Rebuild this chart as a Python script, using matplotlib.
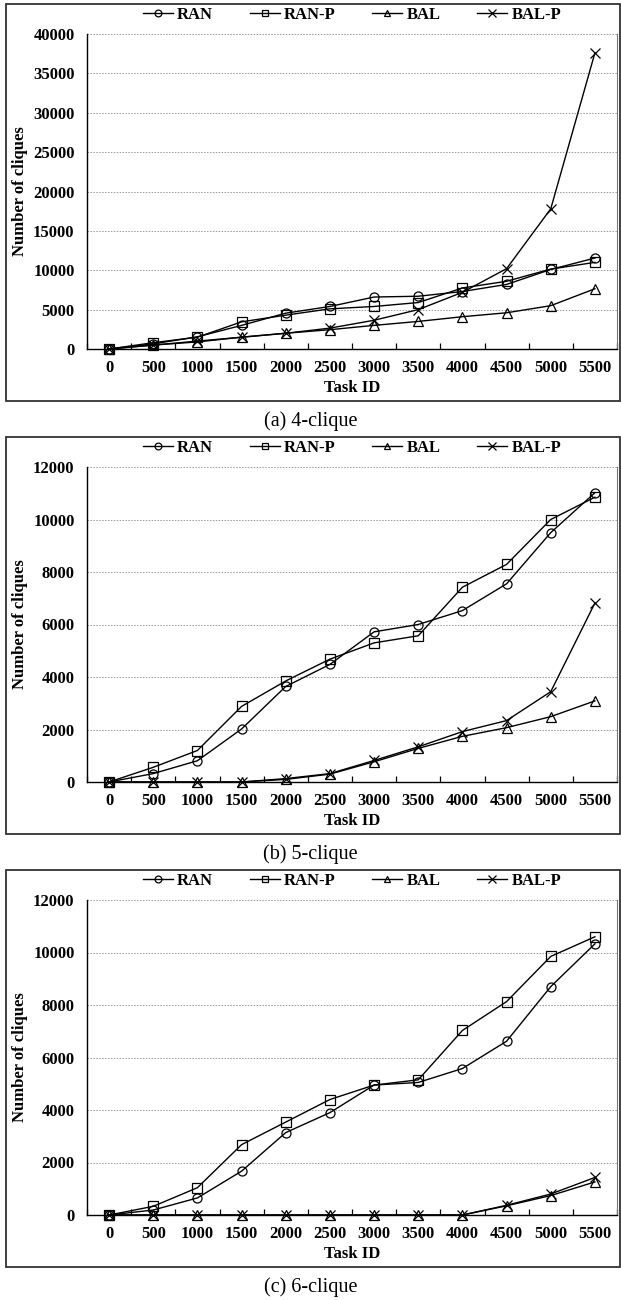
import matplotlib
matplotlib.use('Agg')
import matplotlib.pyplot as plt
from matplotlib.patches import Rectangle
import numpy as np

plt.rcParams['font.family'] = ['Liberation Serif', 'DejaVu Serif']

# 横轴类别（任务编号）
task_ids = ['0', '500', '1000', '1500', '2000', '2500', '3000', '3500',
            '4000', '4500', '5000', '5500']

# (a) 4-clique
ran_4 = [0, 650, 1550, 3000, 4550, 5400, 6600, 6700, 7300, 8200, 10100, 11550]
ranp_4 = [0, 800, 1500, 3450, 4300, 5100, 5400, 5900, 7750, 8600, 10150, 11000]
bal_4 = [0, 500, 900, 1500, 2000, 2450, 3000, 3500, 4100, 4600, 5500, 7650]
balp_4 = [0, 500, 1000, 1500, 2000, 2650, 3650, 5000, 7200, 10200, 17800, 37600]

# (b) 5-clique
ran_5 = [0, 320, 810, 2020, 3640, 4480, 5720, 6000, 6530, 7550, 9500, 11020]
ranp_5 = [0, 560, 1200, 2880, 3850, 4680, 5300, 5570, 7420, 8290, 10000, 10850]
bal_5 = [0, 0, 0, 0, 100, 300, 770, 1280, 1740, 2070, 2490, 3090]
balp_5 = [0, 0, 0, 0, 130, 320, 820, 1340, 1920, 2340, 3440, 6820]

# (c) 6-clique
ran_6 = [0, 190, 650, 1670, 3140, 3900, 4950, 5050, 5580, 6620, 8700, 10330]
ranp_6 = [0, 330, 1040, 2680, 3540, 4400, 4950, 5150, 7030, 8130, 9850, 10600]
bal_6 = [0, 0, 0, 0, 0, 0, 0, 0, 0, 350, 740, 1260]
balp_6 = [0, 0, 0, 0, 0, 0, 0, 0, 0, 370, 800, 1430]

series_names = ['RAN', 'RAN-P', 'BAL', 'BAL-P']
markers = ['o', 's', '^', 'x']

panels = [
    ('(a) 4-clique', [ran_4, ranp_4, bal_4, balp_4], 40000, 5000),
    ('(b) 5-clique', [ran_5, ranp_5, bal_5, balp_5], 12000, 2000),
    ('(c) 6-clique', [ran_6, ranp_6, bal_6, balp_6], 12000, 2000),
]

W, H = 621, 1300
fig = plt.figure(figsize=(W / 100, H / 100), dpi=100)

# 每个子图的像素位置：外框顶部、绘图区顶部/底部
frame_tops = [4, 437, 870]
plot_tops = [34, 467, 900]
plot_bottoms = [349, 782, 1215]
plot_left, plot_right = 87, 617

x = np.arange(len(task_ids))

for (caption, data, ymax, ystep), ftop, ptop, pbot in zip(
        panels, frame_tops, plot_tops, plot_bottoms):
    ax = fig.add_axes([plot_left / W, 1 - pbot / H,
                       (plot_right - plot_left) / W, (pbot - ptop) / H])

    for vals, name, m in zip(data, series_names, markers):
        ax.plot(x, vals, color='black', linewidth=1.0, marker=m,
                markersize=6.5 if m != 'x' else 7, fillstyle='none',
                markeredgewidth=0.9, label=name, clip_on=False)

    ax.set_xlim(-0.5, len(task_ids) - 0.5)
    ax.set_ylim(0, ymax)
    ax.set_yticks(np.arange(0, ymax + 1, ystep))
    ax.set_xticks(x)
    ax.set_xticklabels(task_ids)
    ax.set_xticks(np.arange(-0.5, len(task_ids)), minor=True)
    ax.tick_params(axis='x', which='major', length=0, pad=8)
    ax.tick_params(axis='x', which='minor', length=4, direction='in', width=0.9)
    ax.tick_params(axis='y', length=0, pad=9)
    for lab in ax.get_xticklabels() + ax.get_yticklabels():
        lab.set_fontweight('bold')
        lab.set_fontsize(12)

    ax.yaxis.grid(True, linestyle=(0, (1.5, 1.5)), color='#999999', linewidth=0.7)
    ax.set_axisbelow(True)
    ax.spines['top'].set_visible(False)
    ax.spines['right'].set_color('#777777')
    ax.spines['right'].set_linewidth(0.8)
    ax.spines['left'].set_linewidth(1.0)
    ax.spines['bottom'].set_linewidth(1.0)

    ax.set_xlabel('Task ID', fontsize=12, fontweight='bold', labelpad=3)
    ax.set_ylabel('Number of cliques', fontsize=12, fontweight='bold')
    ax.yaxis.set_label_coords(-0.112, 0.5)

    ax.legend(loc='center', bbox_to_anchor=(0.5, 1 + (ptop - (ftop + 11)) / (pbot - ptop)),
              ncol=4, frameon=False, prop={'weight': 'bold', 'size': 12},
              handlelength=1.8, handletextpad=0.25, columnspacing=2.2,
              markerscale=0.75, borderaxespad=0)

    # 外框和图注
    fbot = pbot + 52
    fig.add_artist(Rectangle((6 / W, 1 - fbot / H), (620 - 6) / W, (fbot - ftop) / H,
                             transform=fig.transFigure, fill=False,
                             edgecolor='#333333', linewidth=1.3))
    fig.text(0.5, 1 - (pbot + 72) / H, caption, ha='center', va='center', fontsize=14.5)

fig.savefig('out.png', dpi=100)
